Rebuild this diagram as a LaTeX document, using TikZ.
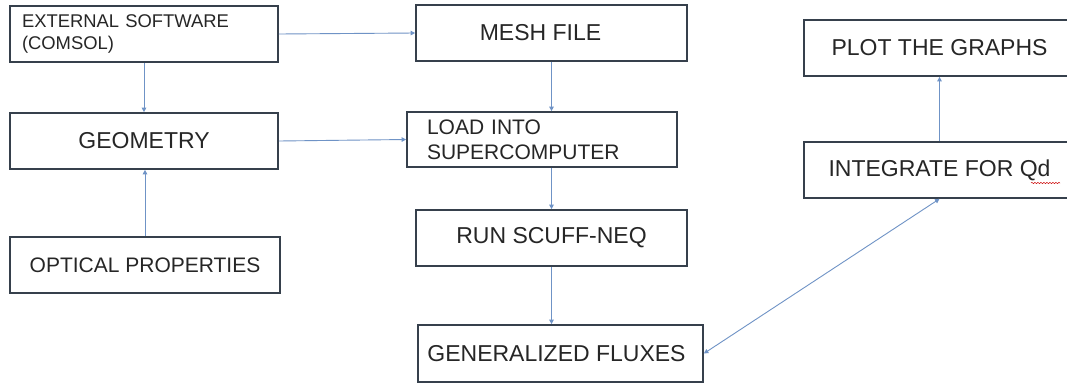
\documentclass[tikz,border=0pt]{standalone}
\usepackage{fontspec}
\setmainfont{Liberation Sans}
\usetikzlibrary{arrows.meta,decorations.pathmorphing}
\definecolor{boxcol}{HTML}{36404C}
\definecolor{txtcol}{HTML}{262626}
\definecolor{arrcol}{HTML}{6F93C6}
\begin{document}
\begin{tikzpicture}[x=1pt,y=-1pt,
  flowbox/.style={draw=boxcol, line width=1.7pt, rectangle, inner sep=0pt, text=txtcol,
    font=\fontsize{23}{26}\selectfont},
  conn/.style={draw=arrcol, line width=0.9pt, -{Triangle[length=4.5pt,width=4.5pt]}},
  bconn/.style={draw=arrcol, line width=0.9pt, {Triangle[length=4.5pt,width=4.5pt]}-{Triangle[length=4.5pt,width=4.5pt]}}]
\useasboundingbox (0,0) rectangle (1067,383);
\clip (0,0) rectangle (1067,383);
\fill[white] (0,0) rectangle (1067,383);

\node[flowbox, minimum width=268pt, minimum height=56pt, text width=244pt, align=left,
  font=\fontsize{18.4}{22}\selectfont] (ext) at (144,34) {EXTERNAL SOFTWARE\\(COMSOL)};
\node[flowbox, minimum width=268pt, minimum height=56pt] (geo) at (144,141) {GEOMETRY};
\node[flowbox, minimum width=270pt, minimum height=56pt,
  font=\fontsize{21}{24}\selectfont] (opt) at (145,265) {OPTICAL PROPERTIES};
\node[flowbox, minimum width=271pt, minimum height=56pt] (mesh) at (551.5,33) {\hspace*{-22pt}MESH FILE};
\node[flowbox, minimum width=270pt, minimum height=55pt, text width=230pt, align=left,
  font=\fontsize{21}{25}\selectfont] (load) at (542,139.5) {LOAD INTO\\SUPERCOMPUTER};
\node[flowbox, minimum width=271pt, minimum height=56pt] (run) at (551.5,238) {RUN SCUFF-NEQ};
\node[flowbox, minimum width=285pt, minimum height=57pt] (flux) at (560.5,353.5) {\hspace*{-8pt}GENERALIZED FLUXES};
\node[flowbox, minimum width=271pt, minimum height=56pt] (plot) at (939.5,48) {PLOT THE GRAPHS};
\node[flowbox, minimum width=271pt, minimum height=56pt] (integ) at (939.5,170) {INTEGRATE FOR Qd};

\draw[red!80!black, line width=0.5pt, decorate, decoration={snake, amplitude=0.6pt, segment length=3pt}]
  (1031,183) -- (1060,183);

\draw[conn] (ext.east) -- (mesh.west);
\draw[conn] (ext.south) -- (geo.north);
\draw[conn] (geo.east) -- (load.west);
\draw[conn] (opt.north) -- (opt.north |- geo.south);
\draw[conn] (mesh.south) -- (mesh.south |- load.north);
\draw[conn] (run.north |- load.south) -- (run.north);
\draw[conn] (run.south) -- (run.south |- flux.north);
\draw[bconn] (flux.east) -- (integ.south);
\draw[conn] (integ.north) -- (plot.south);
\end{tikzpicture}
\end{document}
